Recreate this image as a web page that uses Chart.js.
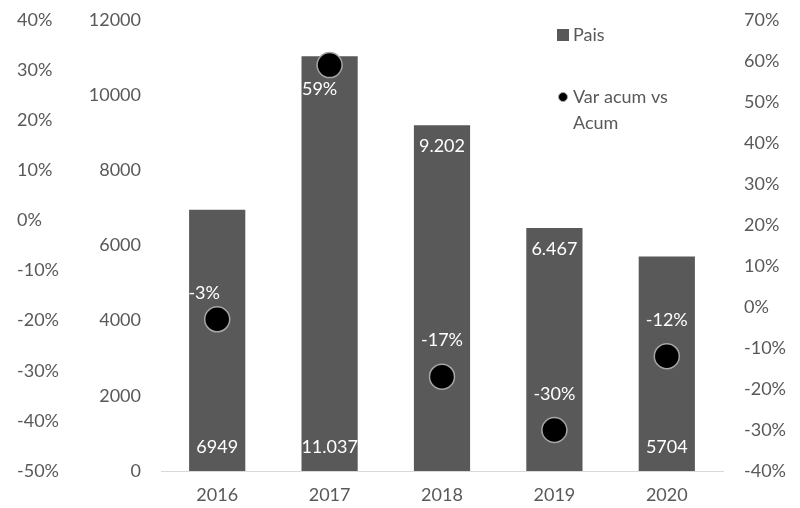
<!DOCTYPE html>
<html>
<head>
<meta charset="utf-8">
<script src="https://cdn.jsdelivr.net/npm/chart.js@4.4.1/dist/chart.umd.min.js"></script>
<style>
  html, body { margin: 0; padding: 0; background: #fff; }
  #wrap { width: 800px; height: 508px; position: relative; }
</style>
</head>
<body>
<div id="wrap"><canvas id="chart"></canvas></div>
<script>
// data
const years = ["2016", "2017", "2018", "2019", "2020"];
const paisValues = [6949, 11037, 9202, 6467, 5704];
const paisLabels = ["6949", "11.037", "9.202", "6.467", "5704"];
const varValues = [-3, 59, -17, -30, -12];
const varLabels = ["-3%", "59%", "-17%", "-30%", "-12%"];

// tick labels of the three value axes
const countTicks = [0, 2000, 4000, 6000, 8000, 10000, 12000];
const leftPctTicks = [-50, -40, -30, -20, -10, 0, 10, 20, 30, 40];
const rightPctTicks = [-40, -30, -20, -10, 0, 10, 20, 30, 40, 50, 60, 70];

// where the data labels sit
const barLabelAt = ["base", "base", "end", "end", "base"];
const pointLabelShift = [[-13, -26], [-10, 24], [0, -37], [0, -36], [0, -36]];

const GREY = "#595959";
Chart.defaults.font.family = "Lato";
Chart.defaults.font.size = 18;
Chart.defaults.color = GREY;

const useTicks = (list) => (axis) => {
  axis.ticks = list.map((v) => ({ value: v }));
};

// fixed axis width, and no extra room above/below for the end labels
const fitWidth = (w) => (axis) => {
  axis.width = w;
  axis.paddingTop = 0;
  axis.paddingBottom = 0;
};

const valueLabels = {
  id: "valueLabels",
  afterDatasetsDraw(chart) {
    const ctx = chart.ctx;
    ctx.save();
    ctx.font = "18px Lato";
    ctx.fillStyle = "#ffffff";
    ctx.textAlign = "center";
    ctx.textBaseline = "middle";
    chart.getDatasetMeta(1).data.forEach((bar, i) => {
      const y = barLabelAt[i] === "base" ? bar.base - 24 : bar.y + 21;
      ctx.fillText(paisLabels[i], bar.x, y);
    });
    chart.getDatasetMeta(0).data.forEach((pt, i) => {
      ctx.fillText(varLabels[i], pt.x + pointLabelShift[i][0], pt.y + pointLabelShift[i][1]);
    });
    ctx.restore();
  },
};

const sideLegend = {
  id: "sideLegend",
  afterDraw(chart) {
    const ctx = chart.ctx;
    ctx.save();
    ctx.font = "18px Lato";
    ctx.fillStyle = GREY;
    ctx.textAlign = "left";
    ctx.textBaseline = "middle";
    ctx.fillRect(557, 29, 12, 12);
    ctx.fillText("Pais", 573, 35);
    ctx.beginPath();
    ctx.arc(563, 97, 4.5, 0, Math.PI * 2);
    ctx.fillStyle = "#000000";
    ctx.fill();
    ctx.lineWidth = 1;
    ctx.strokeStyle = "#a6a6a6";
    ctx.stroke();
    ctx.fillStyle = GREY;
    ctx.fillText("Var acum vs", 573, 97);
    ctx.fillText("Acum", 573, 123);
    ctx.restore();
  },
};

const ctx = document.getElementById("chart").getContext("2d");
new Chart(ctx, {
  data: {
    labels: years,
    datasets: [
      {
        type: "line",
        label: "Var acum vs Acum",
        data: varValues,
        yAxisID: "y2",
        showLine: false,
        pointRadius: 12.5,
        pointHoverRadius: 12.5,
        pointBackgroundColor: "#000000",
        pointBorderColor: "#a6a6a6",
        pointBorderWidth: 1.5,
        order: 0,
      },
      {
        type: "bar",
        label: "Pais",
        data: paisValues,
        yAxisID: "y",
        backgroundColor: GREY,
        borderWidth: 0,
        barPercentage: 0.5,
        categoryPercentage: 1,
        order: 1,
      },
    ],
  },
  options: {
    responsive: true,
    maintainAspectRatio: false,
    animation: false,
    layout: {
      padding: { left: 17, top: 20, right: 0, bottom: 0 },
    },
    plugins: {
      legend: { display: false },
      tooltip: { enabled: false },
    },
    scales: {
      x: {
        grid: { display: false, drawTicks: false },
        border: { display: true, color: "#d9d9d9", width: 1 },
        ticks: { padding: 13 },
        afterFit: (axis) => {
          axis.height = 37;
        },
      },
      y: {
        position: "left",
        weight: 0,
        min: 0,
        max: 12000,
        grid: { display: false, drawTicks: false },
        border: { display: false },
        ticks: {
          padding: 20,
          callback: (v) => String(v),
        },
        afterBuildTicks: useTicks(countTicks),
        afterFit: fitWidth(84),
      },
      yPct: {
        position: "left",
        weight: 1,
        min: -50,
        max: 40,
        grid: { display: false, drawTicks: false },
        border: { display: false },
        ticks: {
          crossAlign: "far",
          callback: (v) => v + "%",
        },
        afterBuildTicks: useTicks(leftPctTicks),
        afterFit: fitWidth(60),
      },
      y2: {
        position: "right",
        min: -40,
        max: 70,
        grid: { display: false, drawTicks: false },
        border: { display: false },
        ticks: {
          padding: 21,
          callback: (v) => v + "%",
        },
        afterBuildTicks: useTicks(rightPctTicks),
        afterFit: fitWidth(77),
      },
    },
  },
  plugins: [valueLabels, sideLegend],
});
</script>
</body>
</html>
